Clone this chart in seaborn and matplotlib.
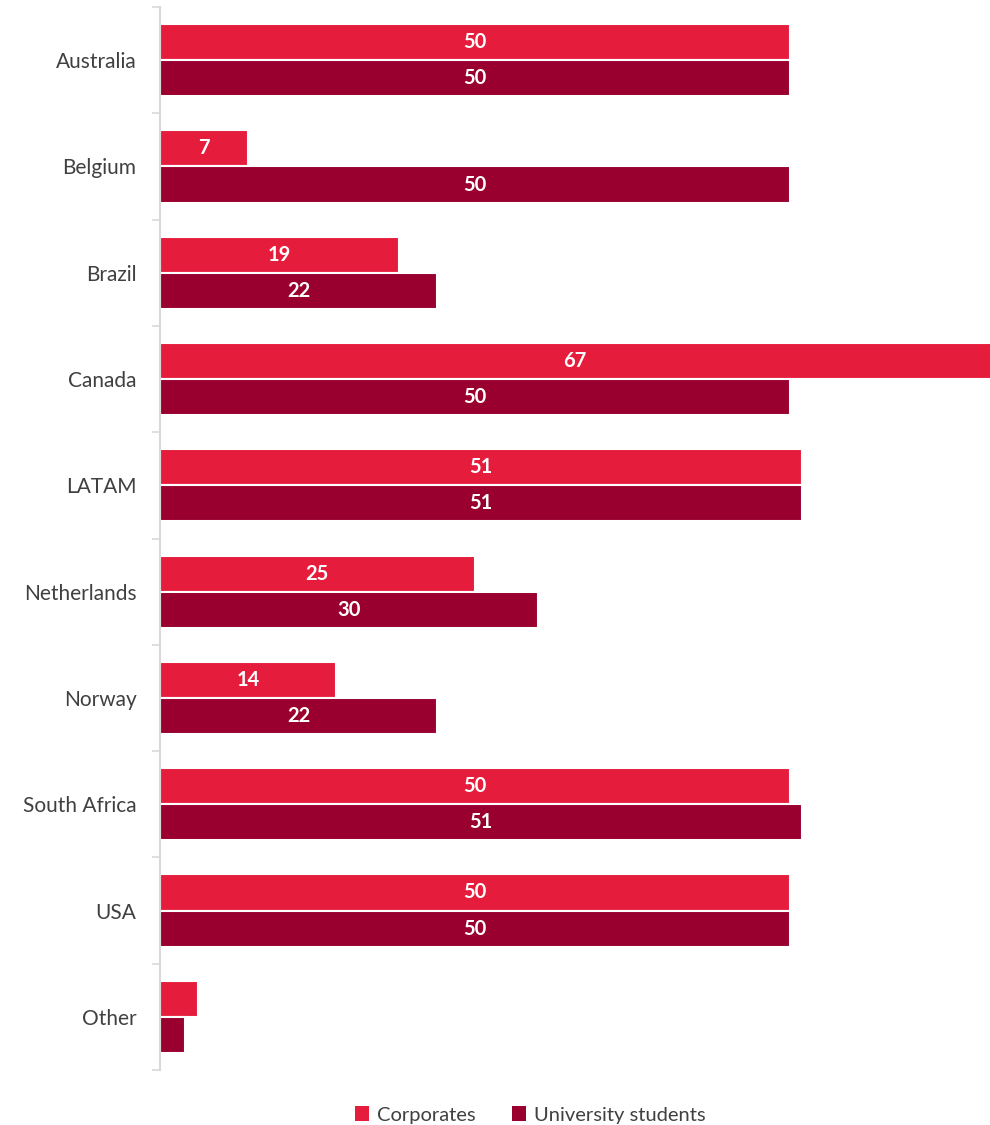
import matplotlib
matplotlib.use("Agg")
import matplotlib.pyplot as plt
import seaborn as sns
import pandas as pd
from matplotlib.patches import Patch

countries = ["Australia", "Belgium", "Brazil", "Canada", "LATAM", "Netherlands",
             "Norway", "South Africa", "USA", "Other"]
corporates = [50, 7, 19, 67, 51, 25, 14, 50, 50, 3]
students = [50, 50, 22, 50, 51, 30, 22, 51, 50, 2]
series = ["Corporates", "University students"]
colors = ["#E61C3C", "#990030"]

df = pd.DataFrame({
    "country": countries * 2,
    "value": corporates + students,
    "series": [series[0]] * len(countries) + [series[1]] * len(countries),
})

sns.set_style("white")
plt.rcParams["font.family"] = ["Lato", "DejaVu Sans"]

fig = plt.figure(figsize=(9.9, 11.25), dpi=100)
ax = fig.add_axes([160 / 990, 55 / 1125, 830 / 990, 1063 / 1125])

sns.barplot(data=df, x="value", y="country", hue="series", order=countries,
            hue_order=series, palette=colors, saturation=1, orient="h", width=0.68,
            edgecolor="white", linewidth=1.5, ax=ax, legend=False)

ax.set_xlim(0, 830 / 12.59)
ax.set_ylim(len(countries) - 0.5, -0.5)
ax.set_xlabel("")
ax.set_ylabel("")
ax.set_xticks([])

for spine in ["top", "right", "bottom"]:
    ax.spines[spine].set_visible(False)
ax.spines["left"].set_color("#d9d9d9")
ax.spines["left"].set_linewidth(1.5)

ax.tick_params(axis="y", which="major", left=False, length=0, pad=17,
               labelsize=15, labelcolor="#404040")
ax.set_yticks([i + 0.5 for i in range(-1, len(countries))], minor=True)
ax.tick_params(axis="y", which="minor", left=True, length=6, width=1.2,
               color="#d9d9d9", direction="out")

for cont, vals in zip(ax.containers, [corporates, students]):
    labels = [str(v) if v >= 5 else "" for v in vals]
    ax.bar_label(cont, labels=labels, label_type="center", color="white",
                 fontsize=14.5, fontweight="bold")

handles = [Patch(facecolor=c, edgecolor="none") for c in colors]
fig.legend(handles, series, loc="center", bbox_to_anchor=(0.536, 10 / 1125),
           ncol=2, frameon=False, fontsize=14.5, labelcolor="#404040",
           handlelength=0.7, handleheight=0.7, handletextpad=0.4, columnspacing=1.8)

fig.savefig("out.png", dpi=100)
